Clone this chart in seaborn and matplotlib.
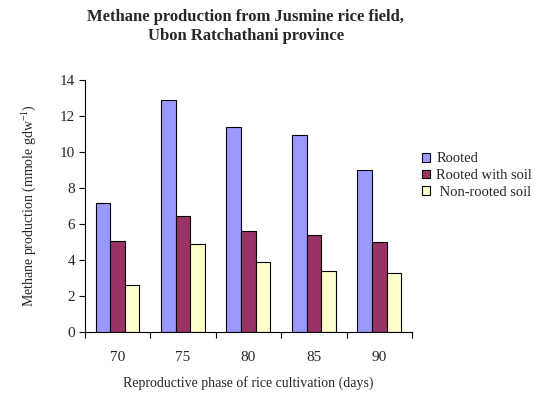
import matplotlib
matplotlib.use("Agg")
import matplotlib.pyplot as plt
import numpy as np
import pandas as pd
import seaborn as sns

days = ["70", "75", "80", "85", "90"]
rooted = [7.17, 12.91, 11.36, 10.94, 8.98]
rooted_with_soil = [5.04, 6.43, 5.62, 5.36, 4.99]
non_rooted_soil = [2.60, 4.86, 3.90, 3.38, 3.27]
series_names = ["Rooted", "Rooted with soil", " Non-rooted soil"]
colors = ["#9999FF", "#993366", "#FFFFCC"]

df = pd.DataFrame({
    "day": days * 3,
    "value": rooted + rooted_with_soil + non_rooted_soil,
    "series": [series_names[0]] * 5 + [series_names[1]] * 5 + [series_names[2]] * 5,
})

sns.set_style("white")
plt.rcParams["font.family"] = ["Liberation Serif", "DejaVu Serif"]
plt.rcParams["mathtext.fontset"] = "custom"
plt.rcParams["mathtext.rm"] = "Liberation Serif"

fig = plt.figure(figsize=(5.4, 4.0), dpi=100)
ax = fig.add_axes([0.157, 0.171, 0.606, 0.629])

sns.barplot(data=df, x="day", y="value", hue="series", order=days,
            hue_order=series_names, palette=colors, width=0.67,
            edgecolor="black", linewidth=0.8, saturation=1, ax=ax)

ax.set_ylim(0, 14)
ax.set_yticks(np.arange(0, 15, 2))
ax.set_xlim(-0.5, len(days) - 0.5)

for s in ["top", "right"]:
    ax.spines[s].set_visible(False)
for s in ["left", "bottom"]:
    ax.spines[s].set_color("black")
    ax.spines[s].set_linewidth(0.8)

ax.tick_params(axis="y", which="major", direction="out", length=4, width=0.8,
               color="black", labelsize=11, pad=3, left=True)
ax.tick_params(axis="x", which="major", length=0, labelsize=11, pad=14)
ax.set_xticks(np.arange(-0.5, len(days), 1.0), minor=True)
ax.tick_params(axis="x", which="minor", direction="out", length=4, width=0.8,
               color="black", bottom=True)

ax.set_xlabel("Reproductive phase of rice cultivation (days)", fontsize=10, labelpad=9)
ax.set_ylabel("Methane production (mmole gdw$^{-1}$)", fontsize=10, labelpad=16)

fig.text(0.455, 0.978, "Methane production from Jusmine rice field,\nUbon Ratchathani province",
         ha="center", va="top", fontsize=12, fontweight="bold", linespacing=1.3)

ax.legend(loc="center left", bbox_to_anchor=(1.012, 0.62), frameon=False,
          fontsize=10.5, handlelength=0.55, handleheight=0.55, handletextpad=0.45,
          labelspacing=0.25, borderaxespad=0)

fig.savefig("out.png", dpi=100)
